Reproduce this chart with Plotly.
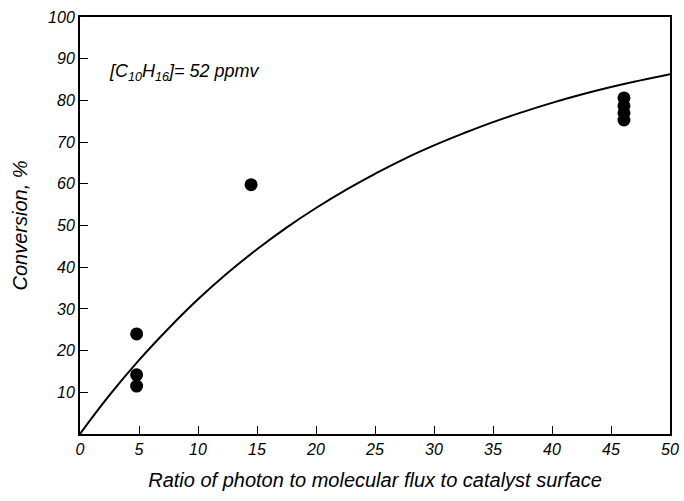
import plotly.graph_objects as go

# Measured data points
pts_x = [4.8, 4.8, 4.8, 14.5, 46.1, 46.1, 46.1, 46.1]
pts_y = [24.0, 14.2, 11.5, 59.8, 80.6, 78.7, 77.0, 75.3]

# Model curve
curve_x = [0, 2.5, 5, 7.5, 10, 12.5, 15, 17.5, 20, 22.5, 25, 27.5, 30, 32.5, 35, 37.5, 40, 42.5, 45, 47.5, 50]
curve_y = [0, 9.3, 17.7, 25.3, 32.3, 38.6, 44.3, 49.5, 54.2, 58.5, 62.4, 66.0, 69.2, 72.1, 74.8, 77.2,
           79.4, 81.4, 83.2, 84.8, 86.3]

x_ticks = [0, 5, 10, 15, 20, 25, 30, 35, 40, 45, 50]
y_ticks = [10, 20, 30, 40, 50, 60, 70, 80, 90, 100]

FONT = "Liberation Sans, Arial, sans-serif"

fig = go.Figure()
fig.add_trace(go.Scatter(x=curve_x, y=curve_y, mode="lines",
                         line=dict(color="black", width=2, shape="spline", smoothing=1.3),
                         showlegend=False, hoverinfo="skip"))
fig.add_trace(go.Scatter(x=pts_x, y=pts_y, mode="markers", marker=dict(color="black", size=13),
                         showlegend=False))

axis_common = dict(showgrid=False, zeroline=False, showline=True, linecolor="black", linewidth=2,
                   mirror=True, ticks="inside", ticklen=8, tickwidth=1, tickcolor="black",
                   tickfont=dict(family=FONT, size=16, color="black", style="italic"))

fig.update_xaxes(range=[0, 50], tickvals=x_ticks, ticktext=[str(v) for v in x_ticks],
                 title=dict(text="Ratio of photon to molecular flux to catalyst surface",
                            font=dict(family=FONT, size=20, color="black", style="italic"), standoff=16),
                 **axis_common)
fig.update_yaxes(range=[0, 100], tickvals=y_ticks, ticktext=[str(v) for v in y_ticks],
                 title=dict(text="Conversion, %",
                            font=dict(family=FONT, size=20, color="black", style="italic"), standoff=15),
                 **axis_common)

fig.add_annotation(x=2.3, y=86.8, xref="x", yref="y", xanchor="left", yanchor="middle", showarrow=False,
                   text="[C<sub>10</sub>H<sub>16</sub>]= 52 ppmv",
                   font=dict(family=FONT, size=18, color="black", style="italic"))

fig.update_layout(width=684, height=501, margin=dict(l=80, r=14, t=17, b=67, autoexpand=False),
                  plot_bgcolor="white", paper_bgcolor="white")

fig.write_html("out.html")
